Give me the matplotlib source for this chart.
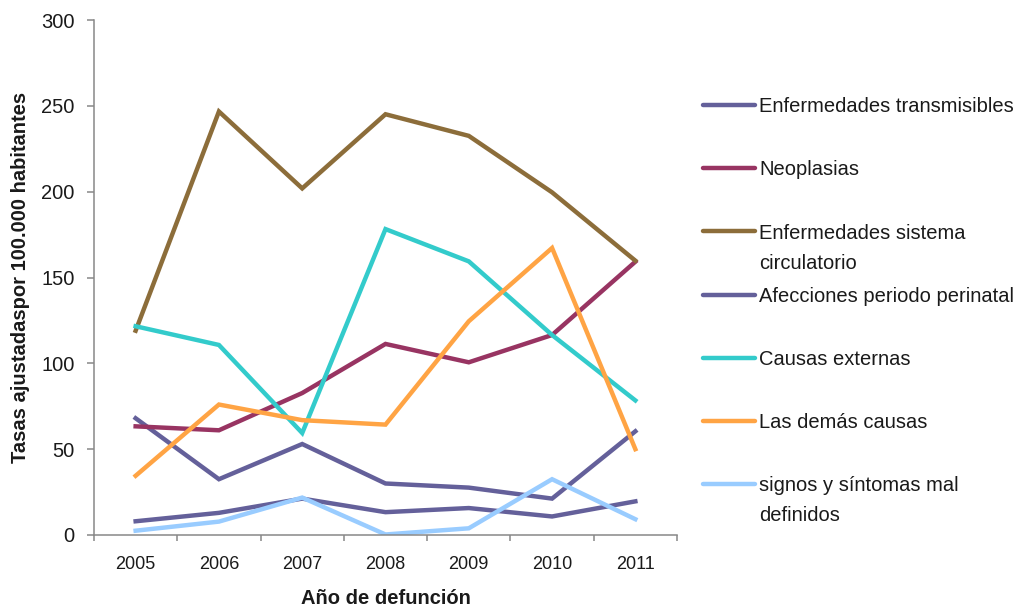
import matplotlib
matplotlib.use("Agg")
import matplotlib.pyplot as plt
from matplotlib.lines import Line2D
from matplotlib.ticker import FixedLocator

plt.rcParams['font.family'] = ['Liberation Sans', 'DejaVu Sans']

years = ['2005', '2006', '2007', '2008', '2009', '2010', '2011']
series_names = [
    'Enfermedades transmisibles',
    'Neoplasias',
    'Enfermedades sistema\ncirculatorio',
    'Afecciones periodo perinatal',
    'Causas externas',
    'Las demás causas',
    'signos y síntomas mal\ndefinidos',
]
transmisibles = [68, 32.5, 53, 30, 27.6, 21.2, 60.4]
neoplasias = [63.3, 61, 82.7, 111.3, 100.6, 116.5, 159.2]
circulatorio = [119, 246.7, 201.9, 245.1, 232.5, 199.6, 159.8]
perinatal = [8, 12.9, 21.2, 13.3, 15.7, 10.8, 19.6]
externas = [121.6, 110.7, 59.4, 178.2, 159.4, 116.5, 78.4]
demas = [34.5, 76, 66.9, 64.3, 124.5, 167.2, 50]
signos = [2.5, 7.8, 21.8, 0.3, 3.9, 32.5, 9.2]
y_ticks = [0, 50, 100, 150, 200, 250, 300]

series_values = [transmisibles, neoplasias, circulatorio, perinatal, externas, demas, signos]
colors = ['#64609A', '#983462', '#8C6D3A', '#64609A', '#33CBCB', '#FFA444', '#99CCFF']

W, H = 1020, 610
fig = plt.figure(figsize=(W / 100, H / 100), dpi=100)
ax = fig.add_axes([94 / W, 1 - 535 / H, (677 - 94) / W, (535 - 20) / H])

x = list(range(len(years)))
for vals, c in zip(series_values, colors):
    ax.plot(x, vals, color=c, lw=3.2, solid_joinstyle='miter')

ax.set_xlim(-0.5, len(years) - 0.5)
ax.set_ylim(0, 300)
ax.set_yticks(y_ticks)
ax.set_yticklabels([str(v) for v in y_ticks])

ax.xaxis.set_major_locator(FixedLocator([i - 0.5 for i in range(len(years) + 1)]))
ax.xaxis.set_minor_locator(FixedLocator(x))
ax.set_xticklabels([], minor=False)
ax.set_xticklabels(years, minor=True)

spine_c = '#888888'
for s in ['top', 'right']:
    ax.spines[s].set_visible(False)
for s in ['left', 'bottom']:
    ax.spines[s].set_color(spine_c)
    ax.spines[s].set_linewidth(1.1)

ax.tick_params(axis='y', which='major', direction='out', length=5, width=1.1,
               color=spine_c, labelsize=14.5, pad=9, labelcolor='#1a1a1a')
ax.tick_params(axis='x', which='major', direction='out', length=4.5, width=1.1,
               color=spine_c)
ax.tick_params(axis='x', which='minor', length=0, labelsize=13, pad=15,
               labelcolor='#1a1a1a')

fig.text(21 / W, 1 - 277 / H, 'Tasas ajustadaspor 100.000 habitantes', rotation=90,
         ha='center', va='center', fontsize=14.5, fontweight='bold', color='#1a1a1a')
fig.text(386 / W, 1 - 598 / H, 'Año de defunción', ha='center', va='center',
         fontsize=14.5, fontweight='bold', color='#1a1a1a')

# legend (manual, Excel-like layout)
fs = 14.5
fs_px = fs * 100 / 72
y0, step, line_gap = 105, 63.2, 30
for i, (name, c) in enumerate(zip(series_names, colors)):
    yc = y0 + i * step
    fig.add_artist(Line2D([703 / W, 755 / W], [1 - yc / H, 1 - yc / H],
                          transform=fig.transFigure, color=c, lw=3.2,
                          solid_capstyle='round'))
    for k, line in enumerate(name.split('\n')):
        yb = yc + 0.36 * fs_px + k * line_gap
        fig.text(759 / W, 1 - yb / H, line, ha='left', va='baseline',
                 fontsize=fs, color='#1a1a1a')

fig.savefig('out.png', dpi=100)
